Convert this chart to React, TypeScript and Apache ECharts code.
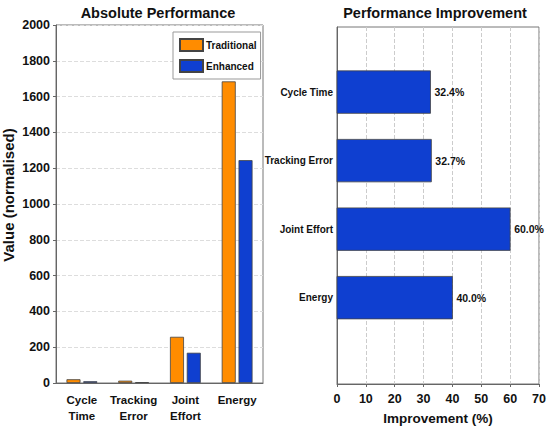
import React, { useEffect, useRef } from 'react';
import * as echarts from 'echarts';

const categories = ['Cycle\nTime', 'Tracking\nError', 'Joint\nEffort', 'Energy'];
const traditional = [21, 13, 258, 1685];
const enhanced = [10, 5, 169, 1245];
const improvementCategories = ['Cycle Time', 'Tracking Error', 'Joint Effort', 'Energy'];
const improvement = [32.4, 32.7, 60.0, 40.0];

const FONT = "'Liberation Sans', Arial, sans-serif";
const TXT = '#111';
const ORANGE = '#FF8C00';
const BLUE = '#0F3FD0';
const EDGE = '#444';

export default function App() {
  const ref = useRef<HTMLDivElement>(null);
  useEffect(() => {
    document.body.style.margin = '0';
    const chart = echarts.init(ref.current!, null, { renderer: 'svg' });
    const improvementData = improvement.map((v, i) => [v, i]);
    chart.setOption({
      animation: false,
      backgroundColor: '#fff',
      textStyle: { fontFamily: FONT },
      title: [
        {
          text: 'Absolute Performance', left: 158, top: 5, textAlign: 'center', padding: 0,
          textStyle: { fontFamily: FONT, fontSize: 14.5, fontWeight: 'bold', color: TXT },
        },
        {
          text: 'Performance Improvement', left: 435, top: 5, textAlign: 'center', padding: 0,
          textStyle: { fontFamily: FONT, fontSize: 14.5, fontWeight: 'bold', color: TXT },
        },
      ],
      legend: {
        left: 173, top: 32, orient: 'vertical',
        data: ['Traditional', 'Enhanced'],
        itemWidth: 23, itemHeight: 12, itemGap: 7,
        padding: [6, 4, 6, 6],
        borderColor: '#999', borderWidth: 1, backgroundColor: '#fff',
        icon: 'rect',
        textStyle: { fontFamily: FONT, fontSize: 10, fontWeight: 'bold', color: TXT, padding: [0, 0, 0, -2] },
      },
      grid: [
        { left: 54, top: 25, width: 209, height: 358, show: true, borderColor: '#777', borderWidth: 1, backgroundColor: 'transparent' },
        { left: 337, top: 27, width: 202, height: 357, show: true, borderColor: '#777', borderWidth: 1, backgroundColor: 'transparent' },
      ],
      xAxis: [
        {
          type: 'category', gridIndex: 0, data: categories,
          axisLine: { lineStyle: { color: '#666' } },
          axisTick: { show: false },
          axisLabel: { fontFamily: FONT, fontSize: 11.5, fontWeight: 'bold', color: TXT, margin: 9, lineHeight: 16, interval: 0 },
          splitLine: { show: false },
        },
        {
          type: 'value', gridIndex: 1, min: 0, max: 70, interval: 10,
          name: 'Improvement (%)', nameLocation: 'middle', nameGap: 27,
          nameTextStyle: { fontFamily: FONT, fontSize: 13.5, fontWeight: 'bold', color: TXT },
          axisLine: { show: true, onZero: false, lineStyle: { color: '#666' } },
          axisTick: { show: true, length: 3, lineStyle: { color: '#666' } },
          axisLabel: { fontFamily: FONT, fontSize: 12.5, fontWeight: 'bold', color: TXT, margin: 8 },
          splitLine: { show: true, lineStyle: { type: 'dashed', color: '#ccc' } },
        },
      ],
      yAxis: [
        {
          type: 'value', gridIndex: 0, min: 0, max: 2000, interval: 200,
          name: 'Value (normalised)', nameLocation: 'middle', nameGap: 40,
          nameTextStyle: { fontFamily: FONT, fontSize: 15, fontWeight: 'bold', color: TXT, padding: [0, 0, 0, 18] },
          axisLine: { show: true, lineStyle: { color: '#666' } },
          axisTick: { show: true, length: 3, lineStyle: { color: '#666' } },
          axisLabel: { fontFamily: FONT, fontSize: 12.5, fontWeight: 'bold', color: TXT, margin: 6, formatter: (v: number) => String(v) },
          splitLine: { show: true, lineStyle: { type: 'dashed', color: '#ddd' } },
        },
        {
          type: 'value', gridIndex: 1, min: -0.95, max: 4.26, inverse: true,
          axisLine: { show: true, onZero: false, lineStyle: { color: '#666' } },
          axisTick: { show: false },
          axisLabel: {
            customValues: [0, 1, 2, 3],
            fontFamily: FONT, fontSize: 10, fontWeight: 'bold', color: TXT, margin: 4,
            formatter: (v: number) => (Number.isInteger(v) && improvementCategories[v]) ? improvementCategories[v] : '',
          },
          splitLine: { show: false },
        },
      ],
      series: [
        {
          name: 'Traditional', type: 'bar', xAxisIndex: 0, yAxisIndex: 0,
          data: traditional, barWidth: 14, barGap: '20%',
          itemStyle: { color: ORANGE, borderColor: EDGE, borderWidth: 0.8 },
        },
        {
          name: 'Enhanced', type: 'bar', xAxisIndex: 0, yAxisIndex: 0,
          data: enhanced, barWidth: 14, barGap: '20%',
          itemStyle: { color: BLUE, borderColor: EDGE, borderWidth: 0.8 },
        },
        {
          name: 'Improvement', type: 'custom', xAxisIndex: 1, yAxisIndex: 1,
          data: improvementData,
          encode: { x: 0, y: 1 },
          renderItem: (params: any, api: any) => {
            const v = api.value(0);
            const idx = api.value(1);
            const start = api.coord([0, idx]);
            const end = api.coord([v, idx]);
            const h = Math.abs(api.size([0, 0.62])[1]);
            return {
              type: 'group',
              children: [
                {
                  type: 'rect',
                  shape: { x: start[0], y: start[1] - h / 2, width: end[0] - start[0], height: h },
                  style: { fill: BLUE, stroke: EDGE, lineWidth: 0.8 },
                },
                {
                  type: 'text',
                  style: {
                    text: v.toFixed(1) + '%', x: end[0] + 4, y: end[1],
                    align: 'left', verticalAlign: 'middle',
                    fontFamily: FONT, fontSize: 10.5, fontWeight: 'bold', fill: TXT,
                  },
                },
              ],
            };
          },
        },
      ],
    });
    return () => chart.dispose();
  }, []);
  return <div ref={ref} style={{ width: 550, height: 436 }} />;
}
